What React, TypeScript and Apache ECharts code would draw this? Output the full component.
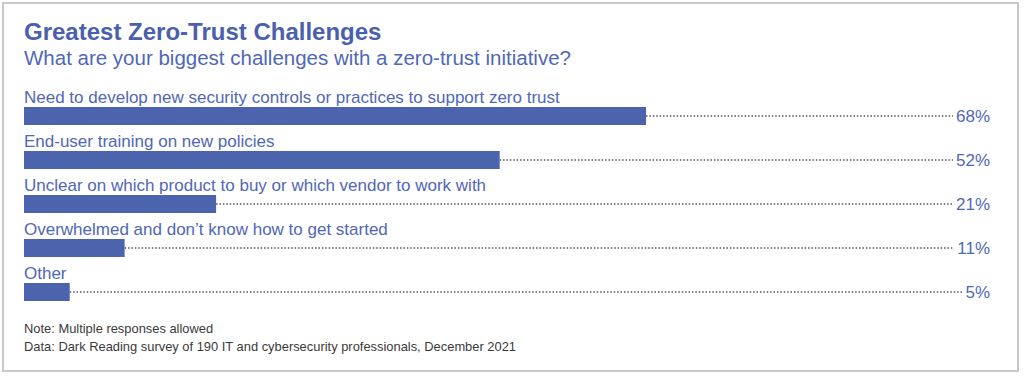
import React, { useEffect, useRef } from "react";
import * as echarts from "echarts";

const categories = [
  "Need to develop new security controls or practices to support zero trust",
  "End-user training on new policies",
  "Unclear on which product to buy or which vendor to work with",
  "Overwhelmed and don\u2019t know how to get started",
  "Other",
];
const values = [68, 52, 21, 11, 5];
const pctLabels = values.map((v) => `${v}%`);

const titleText = "Greatest Zero-Trust Challenges";
const subtitleText = "What are your biggest challenges with a zero-trust initiative?";
const noteLines = [
  "Note: Multiple responses allowed",
  "Data: Dark Reading survey of 190 IT and cybersecurity professionals, December 2021",
];

const X_MAX = 105.6;
const FONT = "'Liberation Sans', Arial, Helvetica, sans-serif";
const BAR = "#4b64ad";
const TEXT_BLUE = "#4f68b6";

export default function App() {
  const ref = useRef<HTMLDivElement>(null);
  useEffect(() => {
    if (!ref.current) return;
    const chart = echarts.init(ref.current, undefined, { renderer: "svg" });
    chart.setOption({
      animation: false,
      backgroundColor: "#ffffff",
      textStyle: { fontFamily: FONT },
      title: [
        {
          text: titleText,
          left: 24,
          top: 19,
          padding: 0,
          textStyle: { fontSize: 24, fontWeight: "bold", color: "#4a5fad", lineHeight: 24, fontFamily: FONT },
        },
        {
          text: subtitleText,
          left: 24,
          top: 47,
          padding: 0,
          textStyle: { fontSize: 20.5, fontWeight: "normal", color: TEXT_BLUE, lineHeight: 21, fontFamily: FONT },
        },
        {
          text: noteLines[0],
          left: 24,
          top: 322,
          padding: 0,
          textStyle: { fontSize: 12.9, fontWeight: "normal", color: "#3a3a3a", lineHeight: 13, fontFamily: FONT },
        },
        {
          text: noteLines[1],
          left: 24,
          top: 340,
          padding: 0,
          textStyle: { fontSize: 12.9, fontWeight: "normal", color: "#3a3a3a", lineHeight: 13, fontFamily: FONT },
        },
      ],
      graphic: [
        {
          type: "rect",
          shape: { x: 3, y: 3, width: 1015, height: 368 },
          style: { fill: "none", stroke: "#c9c9c9", lineWidth: 2 },
          silent: true,
        },
      ],
      grid: { left: 24, right: 34, top: 94, bottom: 65 },
      xAxis: { type: "value", min: 0, max: X_MAX, show: false },
      yAxis: [
        {
          type: "category",
          data: categories,
          inverse: true,
          show: false,
        },
        {
          type: "category",
          data: pctLabels,
          inverse: true,
          position: "right",
          z: 10,
          axisLine: { show: false },
          axisTick: { show: false },
          splitLine: { show: false },
          axisLabel: {
            show: true,
            align: "right",
            margin: 0,
            fontSize: 17,
            color: TEXT_BLUE,
            fontFamily: FONT,
            backgroundColor: "#ffffff",
            padding: [0, 0, 2, 3],
          },
        },
      ],
      series: [
        {
          type: "bar",
          yAxisIndex: 0,
          data: values,
          barWidth: 18,
          itemStyle: { color: BAR },
          label: {
            show: true,
            position: [0, -1],
            verticalAlign: "bottom",
            align: "left",
            formatter: "{b}",
            fontSize: 17,
            lineHeight: 17,
            color: TEXT_BLUE,
            fontFamily: FONT,
          },
          markLine: {
            silent: true,
            symbol: ["none", "none"],
            label: { show: false },
            lineStyle: { type: [1.5, 1.9], color: "#555555", width: 1.5 },
            data: values.map((v, i) => [
              { coord: [v, categories[i]] },
              { coord: [X_MAX, categories[i]] },
            ]),
          },
        },
      ],
    });
    return () => chart.dispose();
  }, []);
  return (
    <div
      ref={ref}
      style={{ position: "fixed", left: 0, top: 0, width: 1024, height: 379, background: "#fff" }}
    />
  );
}
